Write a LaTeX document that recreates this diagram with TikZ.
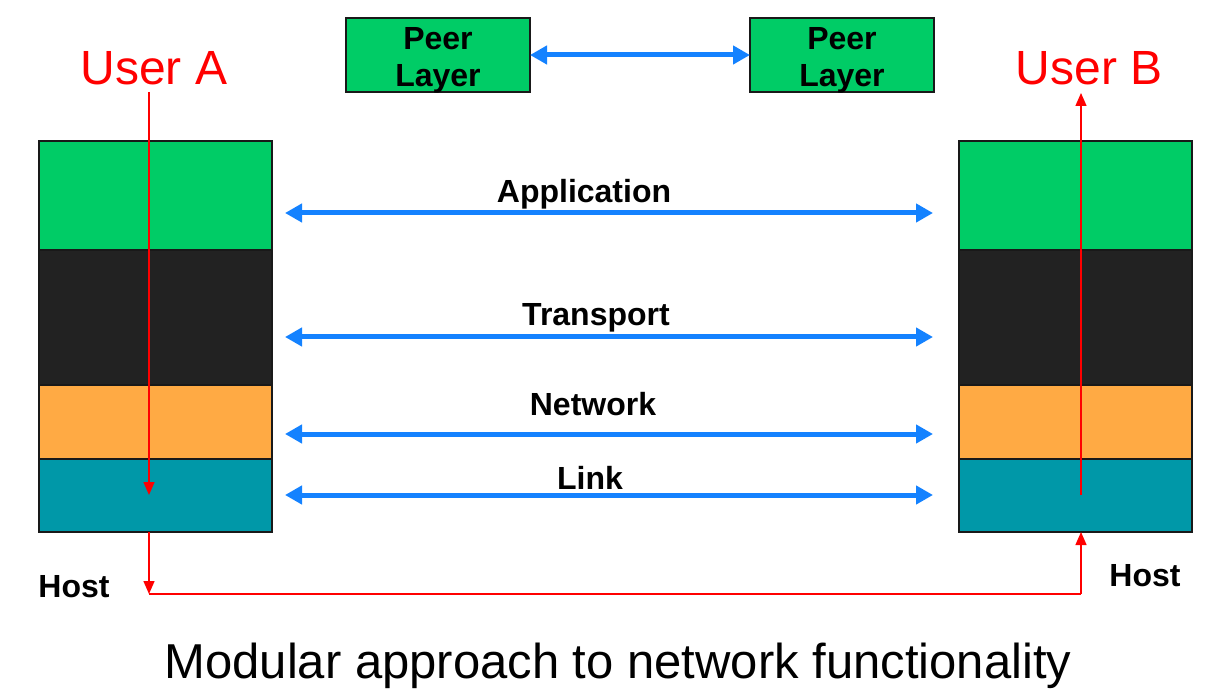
\documentclass[tikz,border=0pt]{standalone}
\usepackage{fontspec}
\setmainfont{Liberation Sans}
\usetikzlibrary{arrows.meta}
\definecolor{cgreen}{RGB}{0,204,102}
\definecolor{cblack}{RGB}{34,34,34}
\definecolor{corange}{RGB}{255,170,68}
\definecolor{cteal}{RGB}{0,152,168}
\definecolor{cblue}{RGB}{20,130,255}
\definecolor{cred}{RGB}{255,0,0}
\tikzset{
  layerbox/.style={draw=black!90, line width=1.6pt, minimum width=233pt, inner sep=0pt, outer sep=0pt},
  peerbox/.style={draw=black!90, line width=1.6pt, fill=cgreen, minimum width=184pt, minimum height=74pt, inner sep=0pt, outer sep=0pt},
  boldlabel/.style={font=\fontsize{32}{37}\selectfont\bfseries, align=center, inner sep=0pt},
  userlabel/.style={font=\fontsize{48}{52}\selectfont, text=cred, inner sep=0pt},
  bluearrow/.style={draw=cblue, line width=5pt, {Triangle[length=17pt,width=18pt]}-{Triangle[length=17pt,width=18pt]}},
  redline/.style={draw=cred, line width=1.4pt},
  redarrow/.style={redline, -{Triangle[length=13pt,width=11pt]}},
}
\begin{document}
\begin{tikzpicture}[x=1pt,y=-1pt]
\useasboundingbox[fill=white] (0,0) rectangle (1226,700);

% left stack
\node[layerbox, fill=cgreen, minimum height=109pt] (gA) at (155.5,195.5) {};
\node[layerbox, fill=cblack, minimum height=135pt] (bA) at (155.5,317.5) {};
\node[layerbox, fill=corange, minimum height=74pt] (oA) at (155.5,422) {};
\node[layerbox, fill=cteal, minimum height=73pt] (tA) at (155.5,495.5) {};
% right stack
\node[layerbox, fill=cgreen, minimum height=109pt] (gB) at (1075.5,195.5) {};
\node[layerbox, fill=cblack, minimum height=135pt] (bB) at (1075.5,317.5) {};
\node[layerbox, fill=corange, minimum height=74pt] (oB) at (1075.5,422) {};
\node[layerbox, fill=cteal, minimum height=73pt] (tB) at (1075.5,495.5) {};

% peer layer boxes
\node[peerbox] (pA) at (438,55) {};
\node[peerbox] (pB) at (842,55) {};
\node[boldlabel] (pAt) at (438,60) {Peer\\Layer};
\node[boldlabel] (pBt) at (842,60) {Peer\\Layer};
\draw[bluearrow] (pA.east) -- (pB.west);

% user labels
\node[userlabel] (uA) at (154,68) {User A};
\node[userlabel] (uB) at (1089,68) {User B};

% host labels
\node[boldlabel] (hA) at (74,587) {Host};
\node[boldlabel] (hB) at (1145,576) {Host};

% protocol labels
\node[boldlabel] (lApp) at (584,194) {Application};
\node[boldlabel] (lTr) at (596,318) {Transport};
\node[boldlabel] (lNet) at (593,404) {Network};
\node[boldlabel] (lLink) at (590,478) {Link};

% blue arrows
\coordinate (a1) at (285,213); \coordinate (b1) at (933,213);
\coordinate (a2) at (285,337); \coordinate (b2) at (933,337);
\coordinate (a3) at (285,434); \coordinate (b3) at (933,434);
\coordinate (a4) at (285,495); \coordinate (b4) at (933,495);
\draw[bluearrow] (a1) -- (b1);
\draw[bluearrow] (a2) -- (b2);
\draw[bluearrow] (a3) -- (b3);
\draw[bluearrow] (a4) -- (b4);

% red path
\coordinate (rA0) at (149,92);
\coordinate (rA1) at (149,495);
\coordinate (rA2) at (149,532);
\coordinate (rA3) at (149,594);
\coordinate (rB3) at (1081,594);
\coordinate (rB2) at (1081,532);
\coordinate (rB1) at (1081,495);
\coordinate (rB0) at (1081,93);
\draw[redarrow] (rA0) -- (rA1);
\draw[redarrow] (rA2) -- (rA3);
\draw[redline] (rA3) -- (rB3);
\draw[redarrow] (rB3) -- (rB2);
\draw[redarrow] (rB1) -- (rB0);

% title
\node[font=\fontsize{49}{54}\selectfont, inner sep=0pt] (title) at (618,666) {Modular approach to network functionality};
\end{tikzpicture}
\end{document}
